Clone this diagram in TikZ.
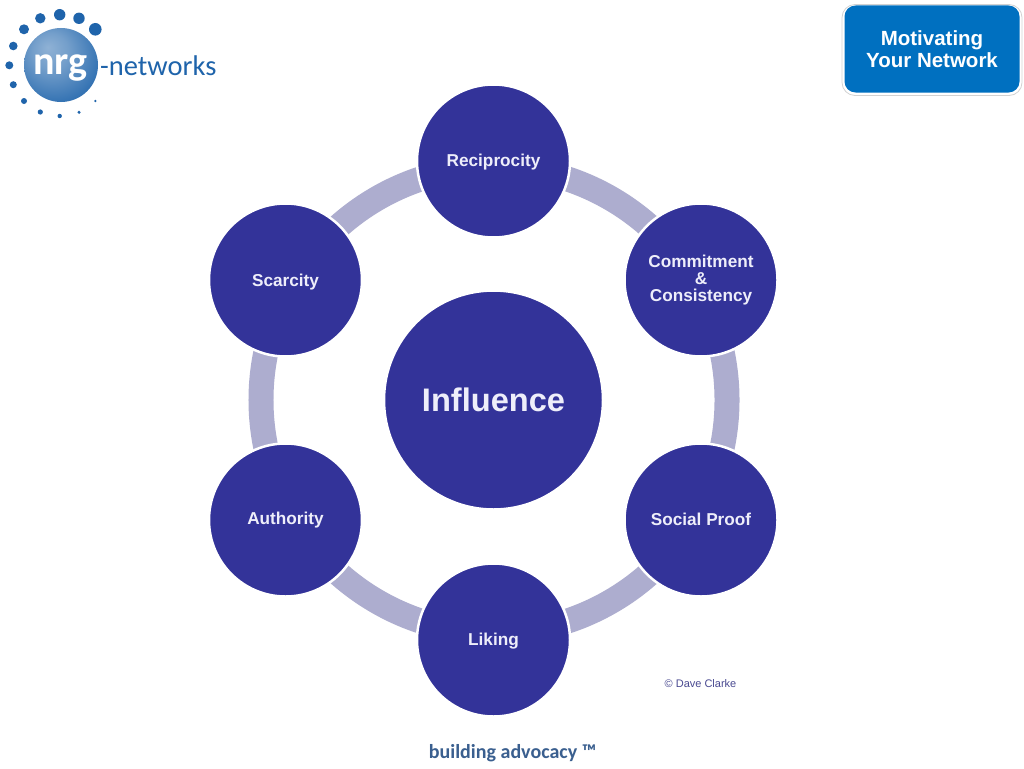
\documentclass[tikz,border=0pt]{standalone}
\usepackage{fontspec}
\setmainfont{Liberation Sans}
\newfontfamily\brandfont{Carlito}
\definecolor{navy}{HTML}{333399}
\definecolor{ringc}{HTML}{ADADCF}
\definecolor{btn}{HTML}{0070C0}
\definecolor{logoblue}{HTML}{1F64AB}
\definecolor{tagc}{HTML}{3A5F8F}
\definecolor{soft}{HTML}{EEEEFA}
\newcommand{\nudgetext}[2]{\raisebox{#1}[\height][\depth]{#2}}
\pgfdeclareradialshading{sphere}{\pgfpoint{-9bp}{12bp}}{
  color(0bp)=(logoblue!50!white);
  color(12bp)=(logoblue!62!white);
  color(32bp)=(logoblue!92!white);
  color(60bp)=(logoblue)}
\tikzset{
  petal/.style={circle,fill=navy,draw=white,line width=2.5pt,minimum size=153pt,inner sep=0pt,
    text=soft,align=center,font=\bfseries\fontsize{17.2}{17.6}\selectfont},
  hub/.style={petal,minimum size=219pt,font=\bfseries\fontsize{32.6}{36}\selectfont},
  link/.style={ringc,line width=25pt,bend left=30,looseness=0.91},
  dot/.style={circle,fill=logoblue,inner sep=0pt},
}
\begin{document}
\begin{tikzpicture}[x=1pt,y=-1pt]
\useasboundingbox[fill=white] (0,0) rectangle (1024,768);
% ring anchor points
\coordinate (r1) at (494,167);
\coordinate (r2) at (696,283.5);
\coordinate (r3) at (696,516.5);
\coordinate (r4) at (494,633);
\coordinate (r5) at (292,516.5);
\coordinate (r6) at (292,283.5);
\draw[link] (r1) to (r2);
\draw[link] (r2) to (r3);
\draw[link] (r3) to (r4);
\draw[link] (r4) to (r5);
\draw[link] (r5) to (r6);
\draw[link] (r6) to (r1);
\node[petal] (rec) at (493.5,161) {\nudgetext{-1pt}{Reciprocity}};
\node[petal] (com) at (701,280) {Commitment\\[-0.4pt]\&\\[-0.4pt]Consistency};
\node[petal] (soc) at (701,520) {\nudgetext{1pt}{Social Proof}};
\node[petal] (lik) at (493.5,640) {\nudgetext{-1pt}{Liking}};
\node[petal] (aut) at (285.5,520) {Authority};
\node[petal] (sca) at (285.5,280) {\nudgetext{-2pt}{Scarcity}};
\node[hub] (inf) at (493.5,400) {Influence};
\node[text=navy!70!gray,font=\fontsize{11}{12}\selectfont] (copy) at (700.5,684) {© Dave Clarke};
\node[text=tagc,font=\brandfont\bfseries\fontsize{20}{22}\selectfont] (tag) at (512.5,753) {building advocacy ™};
% button
\node[draw=gray!35,line width=0.8pt,rounded corners=13pt,minimum width=180pt,minimum height=91pt,inner sep=0pt] (btnout) at (932,50) {};
\node[fill=btn,rounded corners=11pt,minimum width=175pt,minimum height=87pt,inner sep=0pt,text=white,align=center,
  font=\bfseries\fontsize{20.5}{22}\selectfont] (button) at (932,49) {Motivating\\Your Network};
% logo
\node[circle,shading=sphere,minimum size=74pt,inner sep=0pt] (ball) at (61,65) {};
\node[text=white,font=\brandfont\bfseries\fontsize{40}{40}\selectfont,inner sep=0pt] (nrg) at (60.5,68) {nrg};
\node[text=logoblue,font=\brandfont\fontsize{28.5}{30}\selectfont,inner sep=0pt,anchor=base west] (net) at (100,75.5) {-networks};
\node[dot,minimum size=12.6pt] (d1) at (95.3,29.3) {};
\node[dot,minimum size=11.4pt] (d2) at (79,18.3) {};
\node[dot,minimum size=11.4pt] (d3) at (59.7,14.7) {};
\node[dot,minimum size=10.4pt] (d4) at (40.3,18.3) {};
\node[dot,minimum size=10pt] (d5) at (24,29.3) {};
\node[dot,minimum size=8.6pt] (d6) at (13.3,46) {};
\node[dot,minimum size=8pt] (d7) at (9.3,65.3) {};
\node[dot,minimum size=7pt] (d8) at (13.3,84.7) {};
\node[dot,minimum size=6pt] (d9) at (24,101) {};
\node[dot,minimum size=5.2pt] (d10) at (40.3,112) {};
\node[dot,minimum size=4.4pt] (d11) at (59.7,116) {};
\node[dot,minimum size=3.4pt] (d12) at (79,112.3) {};
\node[dot,minimum size=2.6pt] (d13) at (95.3,101) {};
\end{tikzpicture}
\end{document}
